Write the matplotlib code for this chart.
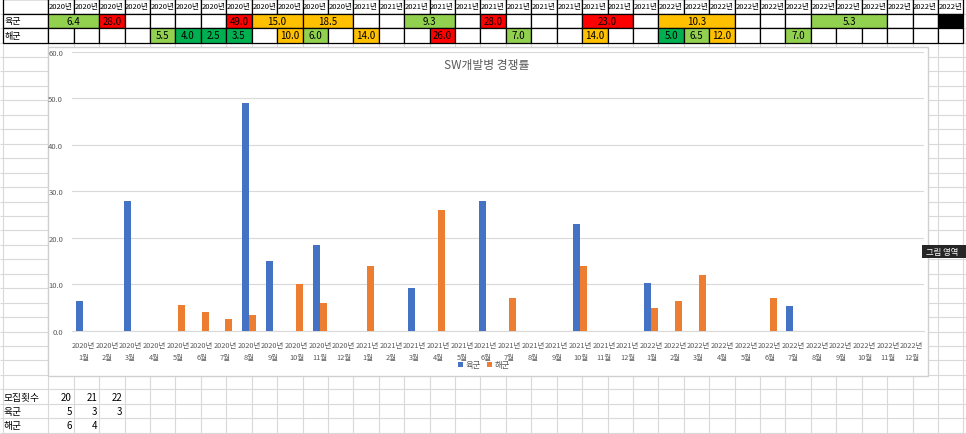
import numpy as np
import matplotlib
matplotlib.use('Agg')
import matplotlib.pyplot as plt
from matplotlib.patches import Rectangle

plt.rcParams['font.family'] = ['Noto Sans CJK KR', 'DejaVu Sans']

# data
years = [2020, 2021, 2022]
months = list(range(1, 13))
month_labels = [f'{y}년\n{m}월' for y in years for m in months]
header_labels = [f'{y}년' for y in years for m in months]

# 경쟁률 by month (0 = no recruitment)
army = [6.4, 0, 28.0, 0, 0, 0, 0, 49.0, 15.0, 0, 18.5, 0,
        0, 0, 9.3, 0, 0, 28.0, 0, 0, 0, 23.0, 0, 0,
        10.3, 0, 0, 0, 0, 0, 5.3, 0, 0, 0, 0, 0]
navy = [0, 0, 0, 0, 5.5, 4.0, 2.5, 3.5, 0, 10.0, 6.0, 0,
        14.0, 0, 0, 26.0, 0, 0, 7.0, 0, 0, 14.0, 0, 0,
        5.0, 6.5, 12.0, 0, 0, 7.0, 0, 0, 0, 0, 0, 0]
# merged cells in the 육군 row (start month -> number of cells)
army_span = {0: 2, 8: 2, 10: 2, 14: 2, 21: 2, 24: 3, 30: 3}
closed_col = 35

count_years = ['20', '21', '22']
count_army = ['5', '3', '3']
count_navy = ['6', '4']


def cell_color(v):
    if v < 5.2:
        return '#00B050'
    if v < 10:
        return '#92D050'
    if v < 20:
        return '#FFC000'
    return '#FF0000'


fig = plt.figure(figsize=(9.66, 4.35), dpi=100)

# spreadsheet background, pixel coords
bg = fig.add_axes([0, 0, 1, 1])
bg.set_xlim(0, 966)
bg.set_ylim(435, 0)
bg.axis('off')

col_x0 = 48.3
col_w = 25.42
row_h = 14.45
row_y0 = 0.2
grid_c = '#D9D9D9'

# gridlines
bg.vlines([2.7] + [col_x0 + k * col_w for k in range(38)], 0, 435, color=grid_c, lw=0.8, zorder=1)
bg.hlines([row_y0 + r * row_h for r in range(31)], 0, 966, color=grid_c, lw=0.8, zorder=1)


def cell(col, row, span=1, fc='white'):
    x = col_x0 + col * col_w if col >= 0 else 2.7
    w = col_w * span if col >= 0 else col_x0 - 2.7
    bg.add_patch(Rectangle((x, row_y0 + row * row_h), w, row_h, fc=fc, ec='black', lw=0.9, zorder=2))
    return x, w


# header row
cell(-1, 0)
for k, lab in enumerate(header_labels):
    x, w = cell(k, 0)
    t = bg.text(x + 0.6, row_y0 + 0.5 * row_h, lab, ha='left', va='center', fontsize=5.5, zorder=3)
    t.set_clip_path(Rectangle((x, 0), w, row_h, transform=bg.transData))

# 육군 row
x, w = cell(-1, 1)
bg.text(x + 1.5, row_y0 + 1.5 * row_h, '육군', ha='left', va='center', fontsize=6.5, zorder=3)
k = 0
while k < len(army):
    span = army_span.get(k, 1)
    v = army[k]
    if k == closed_col:
        cell(k, 1, span, 'black')
    elif v:
        x, w = cell(k, 1, span, cell_color(v))
        bg.text(x + w / 2, row_y0 + 1.5 * row_h, f'{v:.1f}', ha='center', va='center', fontsize=7, zorder=3)
    else:
        cell(k, 1, span)
    k += span

# 해군 row
x, w = cell(-1, 2)
bg.text(x + 1.5, row_y0 + 2.5 * row_h, '해군', ha='left', va='center', fontsize=6.5, zorder=3)
for k, v in enumerate(navy):
    if v:
        x, w = cell(k, 2, 1, cell_color(v))
        bg.text(x + w / 2, row_y0 + 2.5 * row_h, f'{v:.1f}', ha='center', va='center', fontsize=7, zorder=3)
    else:
        cell(k, 2)

# bottom small table
bg.text(4, row_y0 + 27.5 * row_h, '모집횟수', ha='left', va='center', fontsize=7)
bg.text(4, row_y0 + 28.5 * row_h, '육군', ha='left', va='center', fontsize=7)
bg.text(4, row_y0 + 29.5 * row_h, '해군', ha='left', va='center', fontsize=7)
for r, vals in enumerate([count_years, count_army, count_navy]):
    for k, s in enumerate(vals):
        bg.text(col_x0 + (k + 1) * col_w - 2, row_y0 + (27.5 + r) * row_h, s,
                ha='right', va='center', fontsize=7)

# chart area
bg.add_patch(Rectangle((48, 47.5), 880, 329.5, fc='white', ec='#D0D0D0', lw=1, zorder=5))

# tooltip
bg.add_patch(Rectangle((922, 246), 44, 13, fc='#262626', ec='none', zorder=20))
bg.text(926, 252.5, '그림 영역', color='white', ha='left', va='center', fontsize=6, zorder=21)

# plot
ax = fig.add_axes([71.5 / 966, 1 - 332 / 435, 852 / 966, (332 - 52.7) / 435])
ax.patch.set_alpha(0)
x = np.arange(len(month_labels))
bw = 0.29
ax.bar(x - bw / 2, army, bw, color='#4472C4', label='육군', zorder=3)
ax.bar(x + bw / 2, navy, bw, color='#ED7D31', label='해군', zorder=3)

ax.set_xlim(-0.5, len(month_labels) - 0.5)
ax.set_ylim(0, 60)
ax.set_yticks(np.arange(0, 61, 10))
ax.set_yticklabels([f'{v:.1f}' for v in np.arange(0, 61, 10)])
ax.set_xticks(x)
ax.set_xticklabels(month_labels, linespacing=1.7)
ax.tick_params(axis='y', length=0, pad=6, labelsize=5.5, labelcolor='#595959')
ax.tick_params(axis='x', length=0, pad=7, labelsize=5.3, labelcolor='#595959')
ax.grid(axis='y', color='#D9D9D9', lw=0.8, zorder=0)
for s in ['top', 'right', 'left']:
    ax.spines[s].set_visible(False)
ax.spines['bottom'].set_color('#D9D9D9')

fig.text(487 / 966, 1 - 65 / 435, 'SW개발병 경쟁률', ha='center', va='center', fontsize=8.5, color='#595959')
ax.legend(loc='center', bbox_to_anchor=(484 / 966, 1 - 366 / 435), bbox_transform=fig.transFigure,
          ncol=2, frameon=False, handlelength=0.6, handleheight=0.6, handletextpad=0.3,
          columnspacing=0.8, fontsize=6, labelcolor='#595959')

fig.savefig('out.png', dpi=100)
